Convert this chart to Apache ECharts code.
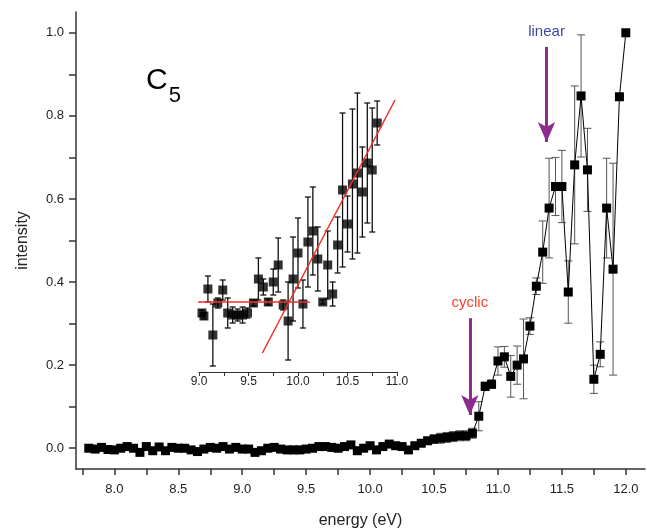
<!DOCTYPE html>
<html>
<head>
<meta charset="utf-8">
<script src="https://cdn.jsdelivr.net/npm/echarts@6/dist/echarts.min.js"></script>
<style>html,body{margin:0;padding:0;background:#fff}#c{width:647px;height:531px}</style>
</head>
<body>
<div id="c"></div>
<script>
// ---- main spectrum ----
var energy = [7.80,7.85,7.90,7.95,8.00,8.05,8.10,8.15,8.20,8.25,8.30,8.35,8.40,8.45,8.50,8.55,8.60,8.65,8.70,8.75,
  8.80,8.85,8.90,8.95,9.00,9.05,9.10,9.15,9.20,9.25,9.30,9.35,9.40,9.45,9.50,9.55,9.60,9.65,9.70,9.75,
  9.80,9.85,9.90,9.95,10.00,10.05,10.10,10.15,10.20,10.25,10.30,10.35,10.40,10.45,10.50,10.55,10.60,10.65,10.70,10.75,
  10.80,10.85,10.90,10.95,11.00,11.05,11.10,11.15,11.20,11.25,11.30,11.35,11.40,11.45,11.50,11.55,11.60,11.65,11.70,11.75,
  11.80,11.85,11.90,11.95,12.00];
var intensity = [0.000,-0.002,0.002,-0.003,-0.004,0.000,0.004,0.000,-0.010,0.004,-0.006,0.003,-0.006,0.002,0.000,0.000,-0.004,-0.008,-0.002,0.002,
  0.000,0.004,-0.002,0.002,-0.002,-0.002,-0.010,-0.006,0.000,0.002,-0.002,-0.004,-0.004,-0.004,-0.002,0.000,0.004,0.004,0.002,0.000,
  0.004,0.008,-0.006,0.000,0.006,-0.004,0.004,0.010,0.006,0.004,-0.004,0.006,0.012,0.018,0.022,0.024,0.026,0.028,0.030,0.030,
  0.036,0.077,0.149,0.154,0.210,0.220,0.173,0.200,0.215,0.294,0.390,0.472,0.578,0.630,0.630,0.376,0.682,0.848,0.670,0.166,
  0.226,0.578,0.431,0.846,1.000];
var intensityErr = [0.004,0.004,0.004,0.004,0.004,0.004,0.004,0.004,0.004,0.004,0.004,0.004,0.004,0.004,0.004,0.004,0.004,0.004,0.004,0.004,
  0.004,0.004,0.004,0.004,0.004,0.004,0.004,0.004,0.004,0.004,0.004,0.004,0.004,0.004,0.004,0.004,0.004,0.004,0.004,0.004,
  0.004,0.004,0.004,0.004,0.004,0.004,0.004,0.004,0.004,0.004,0.004,0.004,0.006,0.008,0.010,0.012,0.012,0.012,0.012,0.012,
  0.012,0.035,0.010,0.010,0.034,0.025,0.050,0.046,0.096,0.020,0.020,0.075,0.120,0.070,0.087,0.075,0.190,0.147,0.100,0.034,
  0.030,0.120,0.255,0.000,0.000];

// ---- inset (threshold region) ----
var insetEnergy = [9.03,9.05,9.09,9.14,9.19,9.24,9.29,9.34,9.39,9.44,9.49,9.55,9.60,9.65,9.70,9.75,9.80,9.85,9.90,9.95,
  10.00,10.05,10.10,10.15,10.20,10.25,10.30,10.35,10.40,10.45,10.50,10.55,10.60,10.65,10.70,10.75,10.80];
var insetSignal = [0.59,0.56,0.83,0.37,0.69,0.82,0.59,0.57,0.57,0.57,0.59,0.69,0.93,0.85,0.70,0.90,1.07,0.67,0.51,0.93,
  1.19,0.68,1.30,1.41,1.13,0.70,1.07,0.78,1.27,1.82,1.48,1.88,1.99,1.80,2.09,2.02,2.49];
var insetErr = [0.03,0.03,0.13,0.31,0.05,0.10,0.15,0.08,0.06,0.08,0.05,0.03,0.21,0.08,0.03,0.13,0.27,0.05,0.39,0.42,
  0.35,0.24,0.45,0.44,0.32,0.02,0.34,0.12,0.28,0.77,0.28,0.75,0.80,0.45,0.60,0.62,0.22];
var fitFlat = [[8.99,0.70],[10.12,0.70]];
var fitSlope = [[9.64,0.19],[10.98,2.72]];

// ---- ticks ----
var mainXTicks = [7.75,8.0,8.25,8.5,8.75,9.0,9.25,9.5,9.75,10.0,10.25,10.5,10.75,11.0,11.25,11.5,11.75,12.0];
var mainXLabels = [8.0,8.5,9.0,9.5,10.0,10.5,11.0,11.5,12.0];
var mainYTicks = [0,0.1,0.2,0.3,0.4,0.5,0.6,0.7,0.8,0.9,1.0];
var mainYLabels = [0,0.2,0.4,0.6,0.8,1.0];
var insetXTicks = [9.0,9.25,9.5,9.75,10.0,10.25,10.5,10.75,11.0];
var insetXLabels = [9.0,9.5,10.0,10.5,11.0];

// ---- annotations ----
var cyclicArrow = {label:'cyclic', x:10.78, from:0.313, to:0.08};
var linearArrow = {label:'linear', x:11.38, from:0.966, to:0.737};

var FONT = '"Liberation Sans", Arial, sans-serif';

function zip3(a,b,c){ var o=[]; for(var i=0;i<a.length;i++){o.push([a[i],b[i],c?c[i]:0]);} return o; }

function errRender(cap, color, lw){
  return function(params, api){
    var x=api.value(0), y=api.value(1), e=api.value(2);
    if(!e) return null;
    var t=api.coord([x,y+e]), b=api.coord([x,y-e]);
    var st={stroke:color, lineWidth:lw};
    return {type:'group', children:[
      {type:'line', shape:{x1:t[0],y1:t[1],x2:b[0],y2:b[1]}, style:st},
      {type:'line', shape:{x1:t[0]-cap,y1:t[1],x2:t[0]+cap,y2:t[1]}, style:st},
      {type:'line', shape:{x1:b[0]-cap,y1:b[1],x2:b[0]+cap,y2:b[1]}, style:st}
    ]};
  };
}

function arrowItem(a, color){
  return [
    {coord:[a.x,a.from], label:{show:true, position:'start', formatter:a.label, color:color, fontSize:15, fontFamily:FONT, distance:8}},
    {coord:[a.x,a.to]}
  ];
}

var chart = echarts.init(document.getElementById('c'), null, {renderer:'canvas'});
var axisCol = '#333';
chart.setOption({
  animation:false,
  textStyle:{fontFamily:FONT},
  grid:[
    {left:76, right:2, top:12, bottom:62, containLabel:false, outerBoundsMode:'none'},
    {left:199, width:198, top:80, height:292, containLabel:false, outerBoundsMode:'none'}
  ],
  xAxis:[
    {gridIndex:0, type:'value', min:7.7, max:12.15,
     name:'energy (eV)', nameLocation:'middle', nameGap:44,
     nameTextStyle:{fontSize:16, color:'#222', fontFamily:FONT},
     axisLine:{show:true, onZero:false, lineStyle:{color:axisCol, width:1.5}},
     axisTick:{show:true, inside:false, length:6, customValues:mainXTicks, lineStyle:{color:axisCol, width:1.5}},
     axisLabel:{show:true, customValues:mainXLabels, margin:14, fontSize:13, color:'#222',
       formatter:function(v){return Number(v).toFixed(1);}},
     splitLine:{show:false}},
    {gridIndex:1, type:'value', min:9, max:11,
     axisLine:{show:true, onZero:false, lineStyle:{color:axisCol, width:1}},
     axisTick:{show:true, inside:false, length:4, customValues:insetXTicks, lineStyle:{color:axisCol}},
     axisLabel:{show:true, customValues:insetXLabels, margin:4, fontSize:12, color:'#222',
       formatter:function(v){return Number(v).toFixed(1);}},
     splitLine:{show:false}}
  ],
  yAxis:[
    {gridIndex:0, type:'value', min:-0.05, max:1.05,
     name:'intensity', nameLocation:'middle', nameGap:45, nameRotate:90,
     nameTextStyle:{fontSize:16, color:'#222', fontFamily:FONT},
     axisLine:{show:true, onZero:false, lineStyle:{color:axisCol, width:1.5}},
     axisTick:{show:true, inside:false, length:7, customValues:mainYTicks, lineStyle:{color:axisCol, width:1.5}},
     axisLabel:{show:true, customValues:mainYLabels, margin:12, fontSize:13, color:'#222',
       formatter:function(v){return Number(v).toFixed(1);}},
     splitLine:{show:false}},
    {gridIndex:1, type:'value', min:0, max:2.92, show:false, splitLine:{show:false}}
  ],
  graphic:[
    {type:'text', left:146, top:66, style:{text:'C{s|5}', fontSize:30, fontFamily:FONT, fill:'#000',
      rich:{s:{fontSize:22, fontFamily:FONT, fill:'#000', padding:[30,0,0,1]}}}}
  ],
  series:[
    {type:'custom', xAxisIndex:0, yAxisIndex:0, renderItem:errRender(4,'#555',1),
     data:zip3(energy,intensity,intensityErr), silent:true, z:2},
    {type:'line', xAxisIndex:0, yAxisIndex:0, data:zip3(energy,intensity).map(function(d){return [d[0],d[1]];}),
     symbol:'rect', symbolSize:9, showAllSymbol:true,
     itemStyle:{color:'#000'}, lineStyle:{color:'#000', width:1}, z:3,
     markLine:{silent:true, symbol:['none','arrow'], symbolSize:[13,20],
       lineStyle:{color:'#8e2b8f', width:3, type:'solid'},
       data:[arrowItem(cyclicArrow,'#f2452f'), arrowItem(linearArrow,'#3f4aa6')]}},
    {type:'custom', xAxisIndex:1, yAxisIndex:1, renderItem:errRender(3,'#111',1.3),
     data:zip3(insetEnergy,insetSignal,insetErr), silent:true, z:2},
    {type:'scatter', xAxisIndex:1, yAxisIndex:1, data:zip3(insetEnergy,insetSignal).map(function(d){return [d[0],d[1]];}),
     symbol:'rect', symbolSize:9, itemStyle:{color:'#000'}, z:3},
    {type:'line', xAxisIndex:1, yAxisIndex:1, data:fitFlat, symbol:'none', lineStyle:{color:'#f0302a', width:1.5}, z:4},
    {type:'line', xAxisIndex:1, yAxisIndex:1, data:fitSlope, symbol:'none', lineStyle:{color:'#f0302a', width:1.5}, z:4}
  ]
});
</script>
</body>
</html>
